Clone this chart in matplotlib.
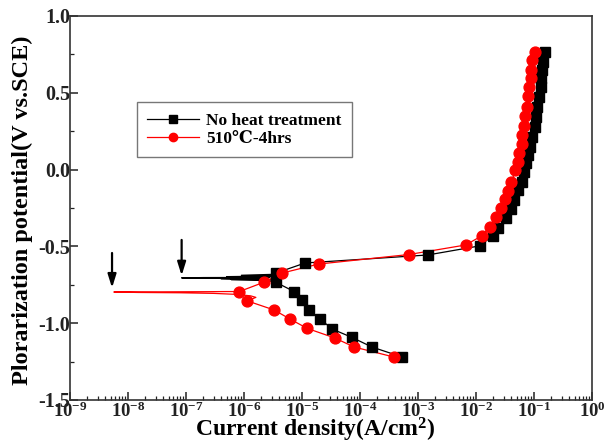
import numpy as np
import matplotlib
matplotlib.use("Agg")
import matplotlib.pyplot as plt
from matplotlib.ticker import LogLocator, FixedLocator, MultipleLocator, NullFormatter

plt.rcParams['font.family'] = ['Liberation Serif', 'DejaVu Serif']
plt.rcParams['font.weight'] = 'bold'
plt.rcParams['mathtext.fontset'] = 'custom'
plt.rcParams['mathtext.rm'] = 'Liberation Serif:bold'
plt.rcParams['mathtext.bf'] = 'Liberation Serif:bold'
plt.rcParams['mathtext.it'] = 'Liberation Serif:bold'

# --- No heat treatment: marker points (current A/cm2, potential V) ---
nh_cath_i = [5.3e-4, 1.6e-4, 7.3e-5, 3.3e-5, 2.06e-5, 1.33e-5, 1.0e-5, 7.3e-6, 3.6e-6]
nh_cath_e = [-1.220, -1.155, -1.093, -1.038, -0.973, -0.914, -0.852, -0.794, -0.735]
nh_anod_i = [3.6e-6, 1.13e-5, 1.47e-3, 0.0115, 0.0193, 0.0244, 0.0323, 0.0409, 0.046,
             0.054, 0.061, 0.068, 0.074, 0.080, 0.087, 0.094, 0.106, 0.110, 0.114,
             0.124, 0.134, 0.134, 0.139, 0.145, 0.157]
nh_anod_e = [-0.673, -0.608, -0.556, -0.497, -0.432, -0.380, -0.315, -0.256, -0.198,
             -0.133, -0.081, -0.016, 0.043, 0.095, 0.147, 0.212, 0.277, 0.342, 0.408,
             0.473, 0.538, 0.596, 0.648, 0.700, 0.765]
# near the corrosion potential (noisy horizontal part)
nh_tip_i = [2.5e-6, 6e-7, 3e-6, 4e-7, 2.5e-6, 1.5e-7, 8.4e-8, 2e-7, 2.8e-6, 5e-7, 3e-6, 9e-7, 3.2e-6]
nh_tip_e = [-0.722, -0.716, -0.716, -0.710, -0.711, -0.707, -0.705, -0.703, -0.702, -0.697, -0.693, -0.688, -0.682]

# --- 510 C-4hrs ---
ht_cath_i = [3.8e-4, 7.9e-5, 3.65e-5, 1.23e-5, 6.2e-6, 3.3e-6, 1.14e-6]
ht_cath_e = [-1.220, -1.155, -1.096, -1.034, -0.973, -0.914, -0.855]
ht_anod_i = [8.3e-7, 2.25e-6, 4.6e-6, 1.94e-5, 6.95e-4, 6.6e-3, 0.0125, 0.0171, 0.0217,
             0.0265, 0.031, 0.0363, 0.0409, 0.0479, 0.052, 0.056, 0.061, 0.063, 0.068,
             0.071, 0.077, 0.080, 0.083, 0.090, 0.090, 0.094, 0.102]
ht_anod_e = [-0.794, -0.732, -0.673, -0.615, -0.553, -0.491, -0.432, -0.374, -0.309,
             -0.250, -0.191, -0.139, -0.081, -0.003, 0.049, 0.108, 0.167, 0.225, 0.284,
             0.349, 0.408, 0.479, 0.538, 0.596, 0.648, 0.714, 0.766]
ht_tip_i = [1.6e-6, 1.3e-6, 7e-7, 3e-7, 8e-8, 1.5e-8, 5.7e-9, 3e-8, 2e-7, 5e-7]
ht_tip_e = [-0.832, -0.822, -0.812, -0.806, -0.802, -0.800, -0.797, -0.796, -0.795, -0.794]

# arrows marking corrosion potentials (x, y_start, y_end)
arrow_x = [5.3e-9, 8.4e-8]
arrow_y0 = [-0.543, -0.458]
arrow_y1 = [-0.770, -0.690]

fig = plt.figure(figsize=(6.1, 4.43), dpi=100)
ax = fig.add_axes([0.1148, 0.0971, 0.8557, 0.8668])

# full measured curves: cathodic branch -> Ecorr tip -> anodic branch
nh_line_i = nh_cath_i + nh_tip_i + nh_anod_i
nh_line_e = nh_cath_e + nh_tip_e + nh_anod_e
ht_line_i = ht_cath_i + ht_tip_i + ht_anod_i
ht_line_e = ht_cath_e + ht_tip_e + ht_anod_e

ax.plot(nh_line_i, nh_line_e, color='black', lw=0.9, zorder=2)
ax.plot(ht_line_i, ht_line_e, color='red', lw=0.9, zorder=2)
ax.plot(nh_cath_i + nh_anod_i, nh_cath_e + nh_anod_e, ls='none', marker='s',
        ms=7.3, color='black', zorder=3)
ax.plot(ht_cath_i + ht_anod_i, ht_cath_e + ht_anod_e, ls='none', marker='o',
        ms=7.8, color='red', zorder=4)

# legend proxies
ax.plot([], [], color='black', lw=0.9, marker='s', ms=5.5, label='No heat treatment')
ax.plot([], [], color='red', lw=0.9, marker='o', ms=6, label='510\u2103-4hrs')

for x, y0, y1 in zip(arrow_x, arrow_y0, arrow_y1):
    ax.annotate('', xy=(x, y1), xytext=(x, y0),
                arrowprops=dict(arrowstyle='-|>,head_length=0.8,head_width=0.25',
                                color='black', lw=1.6, shrinkA=0, shrinkB=0))

ax.set_xscale('log')
ax.set_xlim(1e-9, 1)
ax.set_ylim(-1.5, 1.0)

decades = list(range(-9, 1))
ax.xaxis.set_major_locator(FixedLocator([10.0 ** d for d in decades]))
ax.set_xticklabels([r'$10^{%d}$' % d for d in decades], fontsize=13.5)
ax.xaxis.set_minor_locator(LogLocator(base=10, subs=np.arange(2, 10), numticks=20))
ax.xaxis.set_minor_formatter(NullFormatter())
ax.yaxis.set_major_locator(MultipleLocator(0.5))
ax.yaxis.set_minor_locator(MultipleLocator(0.25))
ax.set_yticklabels([f'{v:.1f}' for v in ax.get_yticks()], fontsize=14.5, fontweight='bold')

ax.tick_params(which='both', direction='in', top=False, right=False, colors='#222222')
ax.tick_params(which='major', length=6, width=1.1)
ax.tick_params(which='minor', length=3, width=0.9)
ax.tick_params(axis='x', pad=1)
ax.tick_params(axis='y', pad=0)
for s in ax.spines.values():
    s.set_linewidth(1.2)
    s.set_color('#333333')

ax.set_xlabel('Current density(A/cm$^2$)', fontsize=17, fontweight='bold')
ax.xaxis.set_label_coords(0.47, -0.094)
ax.xaxis.label.set_va('baseline')
ax.set_ylabel('Plorarization potential(V vs.SCE)', fontsize=17.5, fontweight='bold')
ax.yaxis.set_label_coords(-0.092, 0.495)
ax.yaxis.label.set_va('center')

leg = ax.legend(loc='upper left', bbox_to_anchor=(0.128, 0.775), fontsize=12.5,
                frameon=True, fancybox=False, edgecolor='#555555', handlelength=3.0,
                borderpad=0.6, labelspacing=0.1, handletextpad=0.4, borderaxespad=0)
leg.get_frame().set_linewidth(1.0)
for t in leg.get_texts():
    t.set_fontweight('bold')

fig.savefig('out.png', dpi=100)
